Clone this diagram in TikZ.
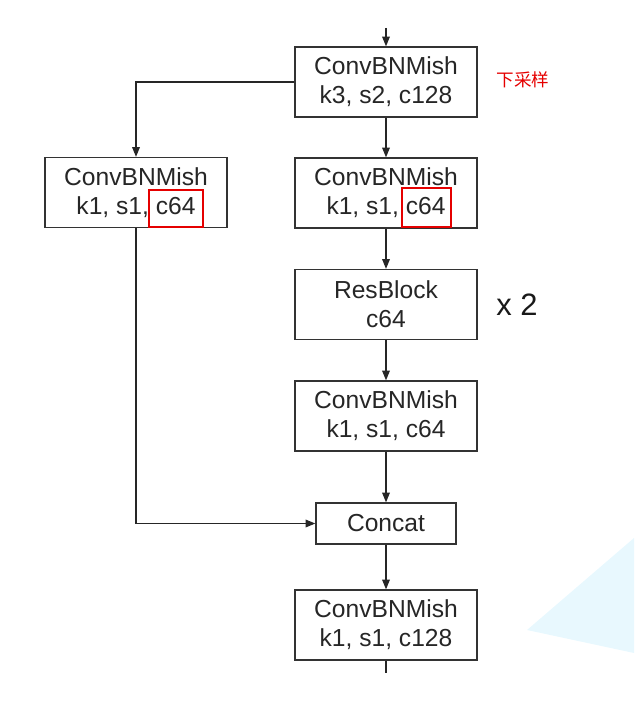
\documentclass[tikz,border=0pt]{standalone}
\usepackage{fontspec}
\setmainfont{Liberation Sans}
\newfontfamily\cjk{Noto Sans CJK SC}
\usetikzlibrary{arrows.meta}

\begin{document}
\begin{tikzpicture}[x=0.025cm,y=-0.025cm,
    box/.style={draw=black!80,line width=0.9pt,minimum width=4.55cm,minimum height=1.75cm,
      align=center,inner sep=0pt,text=black!85,font=\fontsize{17.5}{20.5}\selectfont},
    mark box/.style={draw=red!90!black,line width=1.4pt},
    >={Triangle[length=7pt,width=5.5pt]}]
    \useasboundingbox (0,0) rectangle (634,720);

    % background corner
    \fill[cyan!9] (527,630) -- (634,538) -- (634,653) -- cycle;

    % draw blocks
    \node[box] (down) at (386,82) {ConvBNMish\\k3, s2, c128};
    \node[box] (split) at (136,192.5) {ConvBNMish\\k1, s1, c64};
    \node[box] (main) at (386,193) {ConvBNMish\\k1, s1, c64};
    \node[box] (res) at (386,304.5) {ResBlock\\c64};
    \node[box] (trans) at (386,416) {ConvBNMish\\k1, s1, c64};
    \node[box,minimum width=3.5cm,minimum height=1.025cm] (concat) at (386,523.5) {Concat};
    \node[box] (out) at (386,625) {ConvBNMish\\k1, s1, c128};

    % labels
    \node[text=red!90!black,font=\cjk\fontsize{12.5}{14}\selectfont] (note) at (523,80) {下采样};
    \node[text=black!90,font=\fontsize{22}{24}\selectfont] (rep) at (517,305) {x 2};

    % mark channels
    \draw[mark box] (149,190) rectangle (203,227);
    \draw[mark box] (402,188) rectangle (451,227);

    % draw connectors
    \coordinate (top) at (386,28);
    \coordinate (end) at (386,673);
    \draw[line width=0.8pt,black!85,->] (top) -- (down);
    \draw[line width=0.8pt,black!85,->] (down) -- (main);
    \draw[line width=0.8pt,black!85,->] (down.west) -| (split.north);
    \draw[line width=0.8pt,black!85,->] (main) -- (res);
    \draw[line width=0.8pt,black!85,->] (res) -- (trans);
    \draw[line width=0.8pt,black!85,->] (trans) -- (concat);
    \draw[line width=0.8pt,black!85,->] (split.south) |- (concat.west);
    \draw[line width=0.8pt,black!85,->] (concat) -- (out);
    \draw[line width=0.8pt,black!85] (out) -- (end);
\end{tikzpicture}
\end{document}
